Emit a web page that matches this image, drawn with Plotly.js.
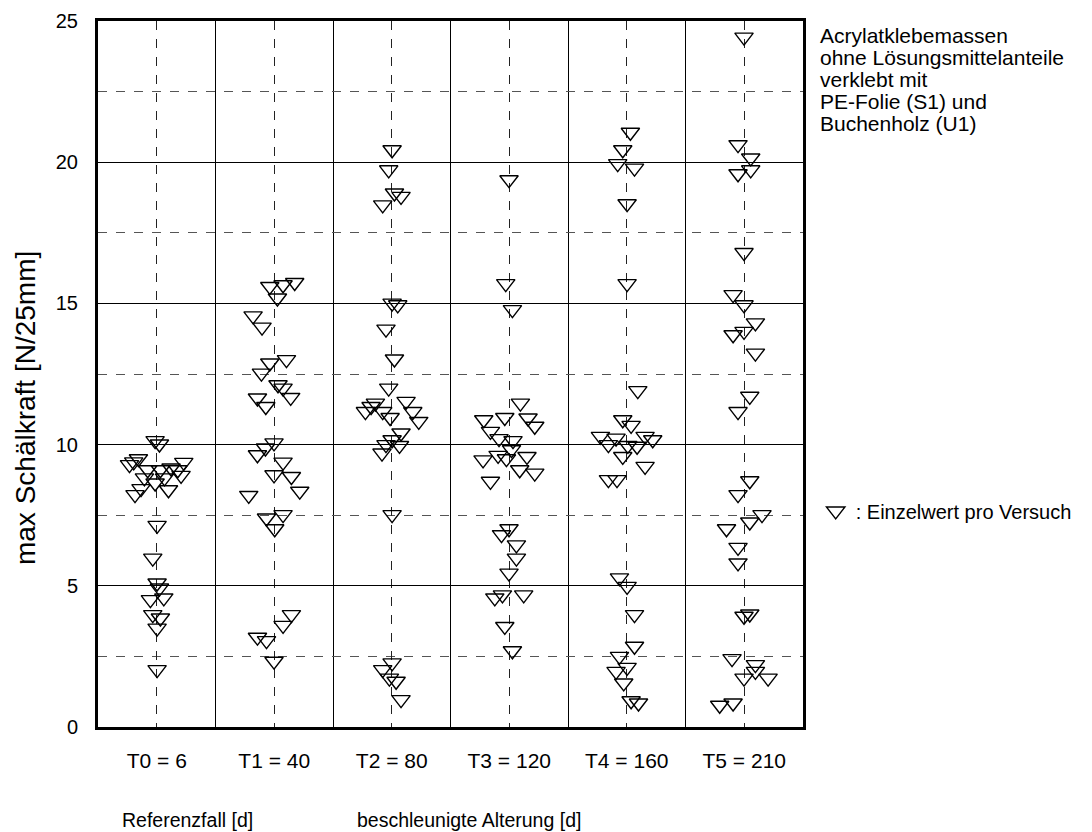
<!DOCTYPE html>
<html>
<head>
<meta charset="utf-8">
<script src="https://cdn.plot.ly/plotly-3.0.1.min.js"></script>
<style>html,body{margin:0;padding:0;background:#fff;}#chart{width:1092px;height:832px;}</style>
</head>
<body>
<div id="chart"></div>
<script>
// Categories (x tick labels)
var categories = ["T0 = 6", "T1 = 40", "T2 = 80", "T3 = 120", "T4 = 160", "T5 = 210"];

// Peel-force values per ageing step [N/25mm]
var t0Values = [10.14, 10.02, 9.50, 9.29, 9.39, 9.37, 9.11, 9.11, 9.17, 9.11, 8.91, 8.82, 8.64, 8.82, 8.44, 8.23, 8.40, 7.14, 5.98, 5.10, 4.92, 4.51, 4.57, 3.98, 3.86, 3.50, 2.03];
var t1Values = [15.60, 15.66, 15.74, 15.19, 14.56, 14.16, 13.01, 12.89, 12.53, 12.12, 12.00, 11.67, 11.65, 11.35, 10.06, 9.88, 9.64, 9.38, 8.93, 8.87, 8.35, 8.20, 7.40, 7.52, 7.02, 3.98, 3.60, 3.18, 3.06, 2.33];
var t2Values = [20.44, 19.73, 18.91, 18.79, 18.49, 15.01, 14.95, 14.09, 13.03, 12.00, 11.47, 11.53, 11.17, 11.35, 11.17, 10.96, 11.17, 10.82, 10.41, 10.17, 10.00, 9.97, 9.70, 7.52, 2.27, 2.03, 1.73, 1.62, 0.97];
var t3Values = [19.38, 15.70, 14.78, 11.47, 10.88, 10.96, 10.94, 10.65, 10.47, 10.21, 10.14, 9.82, 9.46, 9.62, 9.50, 9.58, 9.11, 8.99, 8.70, 7.02, 6.81, 6.45, 5.98, 5.45, 4.57, 4.68, 4.68, 3.56, 2.70];
var t4Values = [21.06, 20.44, 19.95, 19.79, 18.53, 15.70, 11.91, 10.88, 10.68, 10.29, 10.23, 10.29, 10.17, 10.00, 9.97, 9.94, 9.58, 9.23, 8.76, 8.76, 5.28, 4.98, 3.98, 2.86, 2.50, 2.11, 1.97, 1.56, 0.93, 0.85];
var t5Values = [24.43, 20.62, 20.15, 19.73, 19.59, 16.80, 15.31, 14.95, 14.31, 14.01, 13.89, 13.24, 11.71, 11.17, 8.72, 8.23, 7.52, 7.26, 7.02, 6.36, 5.81, 3.92, 4.00, 2.42, 2.21, 1.97, 1.73, 1.73, 0.77, 0.85];

// Horizontal scatter of each single value within its category (category widths)
var t0Jitter = [-0.014, 0.023, -0.156, -0.232, -0.196, 0.230, -0.077, 0.031, 0.122, 0.179, 0.207, -0.105, -0.014, 0.066, -0.134, -0.185, 0.100, 0.003, -0.034, 0.003, 0.023, -0.054, 0.060, -0.034, 0.031, 0.003, 0.003];
var t1Jitter = [-0.038, 0.075, 0.174, 0.027, -0.180, -0.104, 0.104, -0.038, -0.109, 0.032, 0.075, 0.140, -0.143, -0.072, -0.002, -0.075, -0.143, 0.075, -0.002, 0.146, 0.217, -0.217, -0.066, 0.075, 0.004, 0.146, 0.075, -0.143, -0.066, -0.002];
var t2Jitter = [0.003, -0.026, 0.023, 0.079, -0.077, 0.003, 0.051, -0.049, 0.023, -0.026, -0.139, 0.122, -0.224, -0.176, -0.077, -0.014, 0.179, 0.230, 0.079, 0.003, -0.049, 0.066, -0.083, 0.003, 0.003, -0.077, -0.020, 0.037, 0.079];
var t3Jitter = [-0.002, -0.030, 0.027, 0.095, -0.217, -0.038, 0.160, 0.217, -0.160, -0.087, 0.032, 0.019, -0.223, -0.095, -0.024, 0.151, 0.089, 0.217, -0.160, -0.002, -0.066, 0.061, 0.061, -0.002, -0.123, -0.058, 0.123, -0.038, 0.027];
var t4Jitter = [0.031, -0.034, -0.077, 0.066, 0.003, 0.003, 0.094, -0.034, 0.037, -0.224, -0.091, 0.156, 0.221, -0.156, 0.009, 0.088, -0.034, 0.156, -0.156, -0.083, -0.062, 0.003, 0.066, 0.066, -0.062, 0.003, -0.091, -0.026, 0.037, 0.100];
var t5Jitter = [-0.002, -0.053, 0.055, 0.055, -0.053, -0.002, -0.095, -0.002, 0.095, -0.002, -0.095, 0.095, 0.047, -0.053, 0.047, -0.053, 0.151, 0.047, -0.151, -0.053, -0.053, -0.002, 0.047, -0.104, 0.095, 0.095, -0.002, 0.203, -0.209, -0.095];

var yTickVals = [0, 5, 10, 15, 20, 25];
var yTickText = ["0", "5", "10", "15", "20", "25"];

var infoLines = ["Acrylatklebemassen", "ohne Lösungsmittelanteile", "verklebt mit", "PE-Folie (S1) und", "Buchenholz (U1)"];
var legendLabel = ": Einzelwert pro Versuch";
var yTitle = "max Schälkraft [N/25mm]";
var footLeft = "Referenzfall [d]";
var footRight = "beschleunigte Alterung [d]";

var groupsV = [t0Values, t1Values, t2Values, t3Values, t4Values, t5Values];
var groupsJ = [t0Jitter, t1Jitter, t2Jitter, t3Jitter, t4Jitter, t5Jitter];
var xs = [], ys = [];
for (var g = 0; g < groupsV.length; g++) {
  for (var i = 0; i < groupsV[g].length; i++) {
    xs.push(g + groupsJ[g][i]);
    ys.push(groupsV[g][i]);
  }
}

var FONT = 'Arial, "Liberation Sans", Helvetica, sans-serif';

var trace = {
  type: 'scatter', mode: 'markers', x: xs, y: ys, name: legendLabel,
  marker: {symbol: 'triangle-down-open', size: 16, color: '#000', line: {width: 1.4, color: '#000'}},
  cliponaxis: false, hoverinfo: 'y'
};

var annotations = [];
for (var k = 0; k < infoLines.length; k++) {
  annotations.push({xref: 'paper', yref: 'paper', x: 1.0213, y: (727 - 35 - 22 * k) / 706,
    xanchor: 'left', yanchor: 'middle', align: 'left', showarrow: false,
    text: infoLines[k], font: {family: FONT, size: 21, color: '#000'}});
}
annotations.push({xref: 'paper', yref: 'paper', x: -0.1035, y: (727 - 408) / 706, xanchor: 'center', yanchor: 'middle',
  textangle: -90, showarrow: false, text: yTitle, font: {family: FONT, size: 28, color: '#000'}});
annotations.push({xref: 'paper', yref: 'paper', x: 0.0312, y: -0.1317, xanchor: 'left', yanchor: 'middle',
  showarrow: false, text: footLeft, font: {family: FONT, size: 19.5, color: '#000'}});
annotations.push({xref: 'paper', yref: 'paper', x: 0.3645, y: -0.1317, xanchor: 'left', yanchor: 'middle',
  showarrow: false, text: footRight, font: {family: FONT, size: 19.5, color: '#000'}});

var layout = {
  width: 1092, height: 832,
  margin: {l: 98, r: 289, t: 21, b: 105, pad: 0},
  paper_bgcolor: '#fff', plot_bgcolor: '#fff',
  font: {family: FONT, color: '#000', size: 18},
  showlegend: true,
  legend: {x: 1.018, xanchor: 'left', y: 0.306, yanchor: 'middle', bgcolor: 'rgba(0,0,0,0)',
           font: {family: FONT, size: 20, color: '#000'}, itemwidth: 30},
  xaxis: {
    range: [-0.5, 5.5], tickmode: 'array', tickvals: [0, 1, 2, 3, 4, 5], ticktext: categories,
    showgrid: true, gridcolor: '#222', griddash: 'dash', gridwidth: 1,
    minor: {tick0: 0.5, dtick: 1, showgrid: true, gridcolor: '#000', gridwidth: 1, griddash: 'solid'},
    zeroline: false, showline: true, mirror: true, linecolor: '#000', linewidth: 3,
    ticks: 'outside', ticklen: 13, tickcolor: 'rgba(0,0,0,0)',
    tickfont: {family: FONT, size: 21, color: '#000'}, fixedrange: true
  },
  yaxis: {
    range: [0, 25], tickmode: 'array', tickvals: yTickVals, ticktext: yTickText,
    showgrid: true, gridcolor: '#000', gridwidth: 1,
    minor: {dtick: 2.5, tick0: 0, showgrid: true, gridcolor: '#555', gridwidth: 1, griddash: 'dash'},
    zeroline: false, showline: true, mirror: true, linecolor: '#000', linewidth: 3,
    ticks: 'outside', ticklen: 13, tickcolor: 'rgba(0,0,0,0)',
    tickfont: {family: FONT, size: 20, color: '#000'},
    fixedrange: true
  },
  annotations: annotations
};

Plotly.newPlot('chart', [trace], layout, {displayModeBar: false, staticPlot: true});
</script>
</body>
</html>
